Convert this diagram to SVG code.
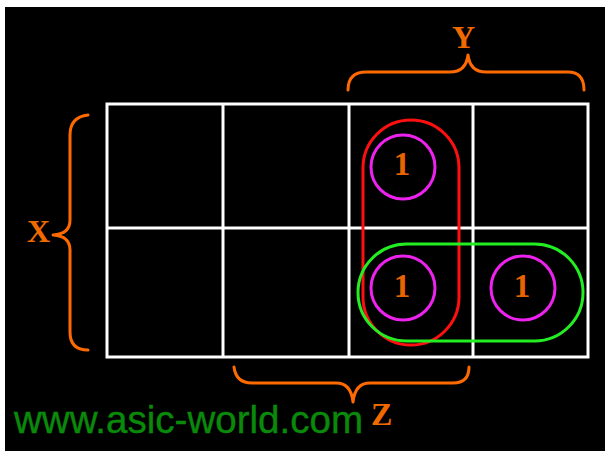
<svg xmlns="http://www.w3.org/2000/svg" width="605" height="451" viewBox="0 0 605 451">
  <style>
    .grid { stroke: #ffffff; stroke-width: 3; fill: none; }
    .brace { stroke: #ff6a00; stroke-width: 3; fill: none; stroke-linecap: round; stroke-linejoin: round; }
    .lbl { font-family: "Liberation Serif", "Times New Roman", serif; font-weight: bold; font-size: 32px; fill: #f06a00; }
    .one { font-family: "Liberation Serif", "Times New Roman", serif; font-weight: bold; font-size: 33px; fill: #e86400; text-anchor: middle; }
    .cell { stroke: #ee22ee; stroke-width: 3; fill: none; }
    .wm { font-family: "Liberation Sans", Arial, sans-serif; font-size: 38px; fill: #0a8a0a; stroke: #0a8a0a; stroke-width: 0.4; }
  </style>
  <rect x="0" y="0" width="605" height="451" fill="#ffffff"/>
  <rect x="5" y="7" width="600" height="444" fill="#000000"/>

  <g id="grid">
    <rect class="grid" x="107" y="104" width="481" height="253"/>
    <line class="grid" x1="223" y1="104" x2="223" y2="357"/>
    <line class="grid" x1="349" y1="104" x2="349" y2="357"/>
    <line class="grid" x1="473" y1="104" x2="473" y2="357"/>
    <line class="grid" x1="107" y1="228" x2="588" y2="228"/>
  </g>

  <g id="connectors">
    <path id="brace-y" class="brace" d="M348,90 Q348,72 366,72 L450,72 Q466,72 468,55 Q470,72 486,72 L568,72 Q584,72 584,90"/>
    <path id="brace-z" class="brace" d="M234,367 Q236,383 252,383 L336,383 Q351,383 353,402 Q355,383 370,383 L453,383 Q469,383 469,367"/>
    <path id="brace-x" class="brace" d="M88,115 Q70,117 70,135 L70,220 Q70,234 53,235 Q70,236 70,250 L70,332 Q70,350 88,350"/>
  </g>

  <g id="group-red">
    <rect x="363" y="120" width="96" height="225" rx="48" ry="48" fill="none" stroke="#ff1010" stroke-width="3"/>
  </g>
  <g id="group-green">
    <rect x="358" y="244" width="225" height="97" rx="48.5" ry="48.5" fill="none" stroke="#22ee22" stroke-width="3"/>
  </g>

  <g id="cell-1">
    <circle class="cell" cx="403" cy="167" r="32"/>
    <text class="one" x="402" y="175">1</text>
  </g>
  <g id="cell-2">
    <circle class="cell" cx="403" cy="288" r="32"/>
    <text class="one" x="402" y="297">1</text>
  </g>
  <g id="cell-3">
    <circle class="cell" cx="523" cy="288" r="32"/>
    <text class="one" x="522" y="297">1</text>
  </g>

  <g id="label-y"><text class="lbl" x="463.5" y="48" text-anchor="middle">Y</text></g>
  <g id="label-x"><text class="lbl" x="27" y="242">X</text></g>
  <g id="label-z"><text class="lbl" x="371" y="425">Z</text></g>

  <g id="watermark">
    <text class="wm" x="14" y="433" textLength="349" lengthAdjust="spacingAndGlyphs">www.asic-world.com</text>
  </g>
</svg>
